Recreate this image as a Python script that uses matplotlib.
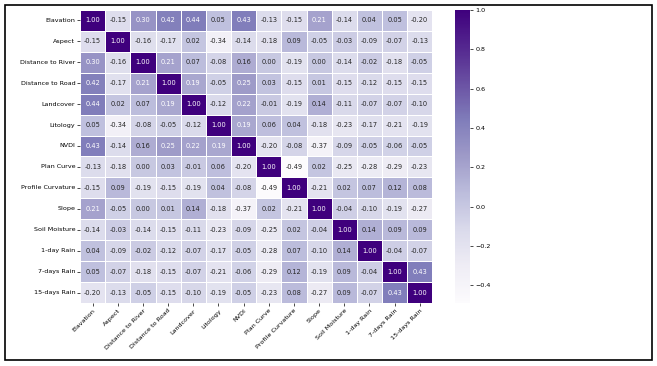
import numpy as np
import matplotlib
matplotlib.use("Agg")
import matplotlib.pyplot as plt
import seaborn as sns

labels = ["Elavation", "Aspect", "Distance to River", "Distance to Road", "Landcover",
          "Litology", "NVDI", "Plan Curve", "Profile Curvature", "Slope",
          "Soil Moisture", "1-day Rain", "7-days Rain", "15-days Rain"]

elevation = [1.00, -0.15, 0.30, 0.42, 0.44, 0.05, 0.43, -0.13, -0.15, 0.21, -0.14, 0.04, 0.05, -0.20]
aspect = [-0.15, 1.00, -0.16, -0.17, 0.02, -0.34, -0.14, -0.18, 0.09, -0.05, -0.03, -0.09, -0.07, -0.13]
dist_river = [0.30, -0.16, 1.00, 0.21, 0.07, -0.08, 0.16, 0.00, -0.19, 0.00, -0.14, -0.02, -0.18, -0.05]
dist_road = [0.42, -0.17, 0.21, 1.00, 0.19, -0.05, 0.25, 0.03, -0.15, 0.01, -0.15, -0.12, -0.15, -0.15]
landcover = [0.44, 0.02, 0.07, 0.19, 1.00, -0.12, 0.22, -0.01, -0.19, 0.14, -0.11, -0.07, -0.07, -0.10]
litology = [0.05, -0.34, -0.08, -0.05, -0.12, 1.00, 0.19, 0.06, 0.04, -0.18, -0.23, -0.17, -0.21, -0.19]
nvdi = [0.43, -0.14, 0.16, 0.25, 0.22, 0.19, 1.00, -0.20, -0.08, -0.37, -0.09, -0.05, -0.06, -0.05]
plan_curve = [-0.13, -0.18, 0.00, 0.03, -0.01, 0.06, -0.20, 1.00, -0.49, 0.02, -0.25, -0.28, -0.29, -0.23]
profile_curv = [-0.15, 0.09, -0.19, -0.15, -0.19, 0.04, -0.08, -0.49, 1.00, -0.21, 0.02, 0.07, 0.12, 0.08]
slope = [0.21, -0.05, 0.00, 0.01, 0.14, -0.18, -0.37, 0.02, -0.21, 1.00, -0.04, -0.10, -0.19, -0.27]
soil_moisture = [-0.14, -0.03, -0.14, -0.15, -0.11, -0.23, -0.09, -0.25, 0.02, -0.04, 1.00, 0.14, 0.09, 0.09]
rain_1 = [0.04, -0.09, -0.02, -0.12, -0.07, -0.17, -0.05, -0.28, 0.07, -0.10, 0.14, 1.00, -0.04, -0.07]
rain_7 = [0.05, -0.07, -0.18, -0.15, -0.07, -0.21, -0.06, -0.29, 0.12, -0.19, 0.09, -0.04, 1.00, 0.43]
rain_15 = [-0.20, -0.13, -0.05, -0.15, -0.10, -0.19, -0.05, -0.23, 0.08, -0.27, 0.09, -0.07, 0.43, 1.00]

corr = np.array([elevation, aspect, dist_river, dist_road, landcover, litology, nvdi,
                 plan_curve, profile_curv, slope, soil_moisture, rain_1, rain_7, rain_15])

fig = plt.figure(figsize=(6.57, 3.66), dpi=100)
ax = fig.add_axes([0.122, 0.172, 0.536, 0.801])
cax = fig.add_axes([0.693, 0.172, 0.023, 0.801])

sns.heatmap(corr, ax=ax, cbar_ax=cax, cmap="Purples", annot=True, fmt=".2f",
            annot_kws={"size": 4.8}, linewidths=0.5, linecolor="white",
            xticklabels=labels, yticklabels=labels)

ax.tick_params(axis="both", labelsize=4.6, length=2, width=0.5, pad=1.5)
plt.setp(ax.get_xticklabels(), rotation=45, ha="right", rotation_mode="anchor")
plt.setp(ax.get_yticklabels(), rotation=0)
cax.tick_params(labelsize=4.6, length=2, width=0.5, pad=1.5)
cax.set_yticks([-0.4, -0.2, 0.0, 0.2, 0.4, 0.6, 0.8, 1.0])

# black frame around the whole picture
frame = plt.Rectangle((0.008, 0.016), 0.985, 0.97, transform=fig.transFigure,
                      fill=False, edgecolor="black", linewidth=1.2)
fig.patches.append(frame)

fig.savefig("out.png", dpi=100)
